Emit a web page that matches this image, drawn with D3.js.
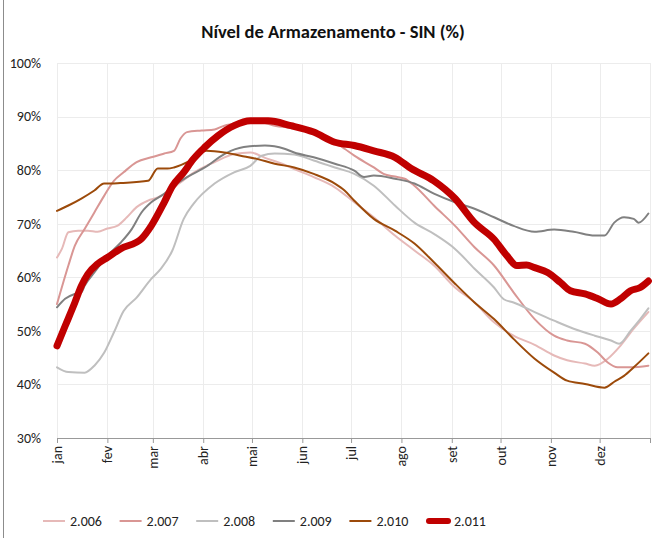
<!DOCTYPE html>
<html>
<head>
<meta charset="utf-8">
<script src="https://cdn.jsdelivr.net/npm/d3@7"></script>
<style>
  body { margin: 0; background: #fff; }
  svg { font-family: "Carlito", "Liberation Sans Narrow", "Lato", sans-serif; }
</style>
</head>
<body>
<div id="main"></div>
<script>
const width = 660;
const height = 538;

// month labels and y ticks
const months = ['jan','fev','mar','abr','mai','jun','jul','ago','set','out','nov','dez'];
const yTicks = [30, 40, 50, 60, 70, 80, 90, 100];
const years = ['2.006', '2.007', '2.008', '2.009', '2.010', '2.011'];

// [mm-dd, %]
const s2006 = [['01-01',63.7],['01-04',65.3],['01-08',68.4],['01-14',68.7],['01-20',68.7],['01-26',68.5],
  ['02-01',69.1],['02-07',69.6],['02-13',71.2],['02-19',73.1],['02-26',74.3],['03-04',74.9],['03-10',75.9],
  ['03-18',77.7],['03-26',79.5],['04-08',81.5],['04-20',83.0],['04-30',83.3],['05-09',82.3],['05-21',81.0],
  ['05-27',80.2],['06-08',78.7],['06-21',76.8],['07-03',74.0],['07-15',71.2],['07-28',67.8],['08-09',65.0],
  ['08-21',62.2],['09-03',58.1],['09-15',55.3],['09-27',51.6],['10-09',49.1],['10-22',47.4],
  ['11-03',45.4],['11-11',44.5],['11-22',43.9],['11-28',43.5],['12-06',44.8],['12-14',47.3],['12-22',50.4],
  ['12-31',53.5]];
const s2007 = [['01-01',55.0],['01-08',62.2],['01-12',65.9],['01-18',69.0],['01-24',72.1],['01-30',75.2],
  ['02-05',78.0],['02-11',79.6],['02-19',81.5],['02-28',82.4],['03-08',83.1],['03-14',83.6],['03-18',85.9],
  ['03-22',87.1],['03-31',87.4],['04-08',87.6],['04-14',88.3],['04-24',88.7],['05-07',88.9],['05-15',88.3],
  ['05-27',87.8],['06-08',86.8],['06-21',85.2],['06-27',84.0],['07-03',82.7],['07-15',80.5],['07-21',79.3],
  ['07-28',78.8],['08-03',78.4],['08-09',77.1],['08-21',73.4],['09-03',69.6],['09-15',65.6],['09-27',62.2],
  ['10-09',57.2],['10-22',52.2],['11-03',49.1],['11-11',48.2],['11-22',47.6],['11-30',45.9],['12-06',44.1],
  ['12-12',43.2],['12-20',43.2],['12-31',43.5]];
const s2008 = [['01-01',43.2],['01-08',42.3],['01-18',42.2],['01-24',43.5],['01-30',45.9],['02-05',49.7],
  ['02-11',53.7],['02-19',56.2],['02-28',59.7],['03-06',61.6],['03-13',65.0],['03-20',70.9],['03-26',73.7],
  ['04-08',77.5],['04-20',79.6],['04-30',80.8],['05-07',82.7],['05-15',83.1],['05-27',82.9],['06-08',81.8],
  ['06-21',80.5],['07-03',79.3],['07-15',77.1],['07-28',73.4],['08-09',70.2],['08-21',68.1],['09-03',65.3],
  ['09-15',61.6],['09-27',58.1],['10-03',55.9],['10-09',55.3],['10-22',53.5],['11-03',51.9],['11-15',50.4],
  ['11-28',49.1],['12-08',48.2],['12-13',47.6],['12-20',50.0],['12-26',52.2],['12-31',54.2]];
const s2009 = [['01-01',54.4],['01-06',56.0],['01-12',56.9],['01-16',57.2],['01-18',58.4],['01-24',60.9],
  ['02-01',64.0],['02-09',66.4],['02-16',69.0],['02-22',72.1],['02-28',74.0],['03-08',75.6],['03-14',77.1],
  ['03-22',78.7],['04-02',80.5],['04-14',83.0],['04-26',84.3],['05-09',84.6],['05-21',84.0],['05-27',83.3],
  ['06-08',82.4],['06-21',81.2],['07-03',79.9],['07-09',78.7],['07-15',79.0],['07-28',78.4],['08-09',77.5],
  ['08-21',75.6],['09-03',74.0],['09-09',73.4],['09-15',72.8],['09-27',71.2],['10-09',69.6],['10-22',68.5],
  ['11-03',68.9],['11-15',68.5],['11-28',67.8],['12-04',67.8],['12-10',70.2],['12-16',71.2],['12-22',70.9],
  ['12-25',70.2],['12-31',71.9]];
const s2010 = [['01-01',72.4],['01-08',73.4],['01-16',74.7],['01-24',76.2],['01-30',77.5],['02-03',77.5],
  ['02-09',77.6],['02-26',78.0],['03-04',80.3],['03-10',80.3],['03-14',80.5],['03-26',82.1],['04-03',83.6],
  ['04-14',83.3],['04-24',82.7],['05-04',82.1],['05-15',81.2],['05-27',80.5],['06-08',79.3],['06-21',77.5],
  ['06-27',76.2],['07-03',74.3],['07-15',70.9],['07-28',68.7],['08-09',66.3],['08-21',62.8],['09-03',58.8],
  ['09-15',55.3],['09-27',52.2],['10-09',48.5],['10-22',44.8],['11-03',42.2],['11-11',40.7],['11-22',40.1],
  ['12-04',39.4],['12-10',40.5],['12-16',41.6],['12-22',43.2],['12-31',45.8]];
const s2011 = [['01-01',47.2],['01-06',50.9],['01-12',55.3],['01-16',58.4],['01-20',60.6],['01-26',62.5],
  ['02-01',63.7],['02-09',65.3],['02-22',67.2],['02-28',69.6],['03-08',74.0],['03-13',77.0],['03-20',79.6],
  ['03-26',82.1],['04-02',84.3],['04-10',86.4],['04-20',88.3],['04-30',89.2],['05-11',89.2],['05-25',88.3],
  ['06-08',87.1],['06-21',85.2],['07-03',84.6],['07-15',83.6],['07-28',82.4],['08-07',80.3],['08-21',78.0],
  ['09-03',74.7],['09-15',70.2],['09-27',67.1],['10-05',64.0],['10-11',62.2],['10-17',62.3],['10-22',61.8],
  ['10-30',60.9],['11-07',59.0],['11-13',57.5],['11-22',56.9],['11-30',56.0],['12-08',55.0],['12-14',56.0],
  ['12-20',57.5],['12-26',58.1],['12-31',59.3]];

const seriesData = [s2006, s2007, s2008, s2009, s2010, s2011];
const colors = ['#e6b9b8', '#d99694', '#bfbfbf', '#808080', '#9c4a0a', '#c00000'];
const widths = [2, 2, 2, 2, 2, 7];

const parseDate = d3.timeParse('%Y-%m-%d');

const svg = d3.select('#main')
    .append('svg')
    .attr('width', width)
    .attr('height', height);

// outer frame edge on the left
svg.append('line')
    .attr('x1', 3.5).attr('x2', 3.5)
    .attr('y1', 0).attr('y2', height)
    .attr('stroke', '#8c8c8c');

const x = d3.scaleTime()
    .domain([parseDate('2011-01-01'), parseDate('2012-01-01')])
    .range([57, 650]);

const y = d3.scaleLinear()
    .domain([30, 100])
    .range([438, 63]);

const monthTicks = d3.timeMonth.range(parseDate('2011-01-01'), parseDate('2012-01-02'));

// grid
svg.append('g')
    .selectAll('line')
    .data(yTicks)
    .join('line')
    .attr('x1', 57).attr('x2', 651)
    .attr('y1', d => Math.round(y(d)) + 0.5)
    .attr('y2', d => Math.round(y(d)) + 0.5)
    .attr('stroke', '#ececec');

svg.append('g')
    .selectAll('line')
    .data(monthTicks)
    .join('line')
    .attr('x1', d => Math.round(x(d)) + 0.5)
    .attr('x2', d => Math.round(x(d)) + 0.5)
    .attr('y1', y(100)).attr('y2', y(30))
    .attr('stroke', '#ececec');

// y labels
svg.append('g')
    .selectAll('text')
    .data(yTicks)
    .join('text')
    .attr('x', 41)
    .attr('y', d => y(d))
    .attr('dy', '0.35em')
    .attr('text-anchor', 'end')
    .attr('font-size', 14)
    .attr('fill', '#222')
    .text(d => d + '%');

// x axis
const xAxis = svg.append('g')
    .attr('transform', `translate(0,${y(30)})`)
    .call(d3.axisBottom(x)
        .tickValues(monthTicks)
        .tickSize(5)
        .tickFormat(''));
xAxis.select('.domain').attr('stroke', '#999');
xAxis.selectAll('.tick line').attr('stroke', '#999');

svg.append('g')
    .selectAll('text')
    .data(monthTicks.slice(0, 12))
    .join('text')
    .attr('transform', d => `translate(${x(d) + 5},446) rotate(-90)`)
    .attr('text-anchor', 'end')
    .attr('font-size', 14)
    .attr('fill', '#222')
    .text((d, i) => months[i]);

// lines
const line = d3.line()
    .x(d => x(parseDate('2011-' + d[0])))
    .y(d => y(d[1]))
    .curve(d3.curveMonotoneX);

svg.append('g')
    .selectAll('path')
    .data(seriesData)
    .join('path')
    .attr('d', line)
    .attr('fill', 'none')
    .attr('stroke', (d, i) => colors[i])
    .attr('stroke-width', (d, i) => widths[i])
    .attr('stroke-linejoin', 'round')
    .attr('stroke-linecap', 'round');

// title
svg.append('text')
    .attr('x', 333)
    .attr('y', 38)
    .attr('text-anchor', 'middle')
    .attr('font-size', 18.5)
    .attr('font-weight', 'bold')
    .attr('fill', '#111')
    .text('Nível de Armazenamento - SIN (%)');

// legend
const legend = svg.append('g')
    .selectAll('g')
    .data(years)
    .join('g')
    .attr('transform', (d, i) => `translate(${43 + i * 76.6},521)`);

legend.append('line')
    .attr('x1', (d, i) => i === 5 ? 3 : 0)
    .attr('x2', 22)
    .attr('stroke', (d, i) => colors[i])
    .attr('stroke-width', (d, i) => i === 5 ? 6 : 2)
    .attr('stroke-linecap', (d, i) => i === 5 ? 'round' : 'butt');

legend.append('text')
    .attr('x', (d, i) => i === 5 ? 28 : 27)
    .attr('dy', '0.35em')
    .attr('font-size', 14)
    .attr('fill', '#222')
    .text(d => d);
</script>
</body>
</html>
